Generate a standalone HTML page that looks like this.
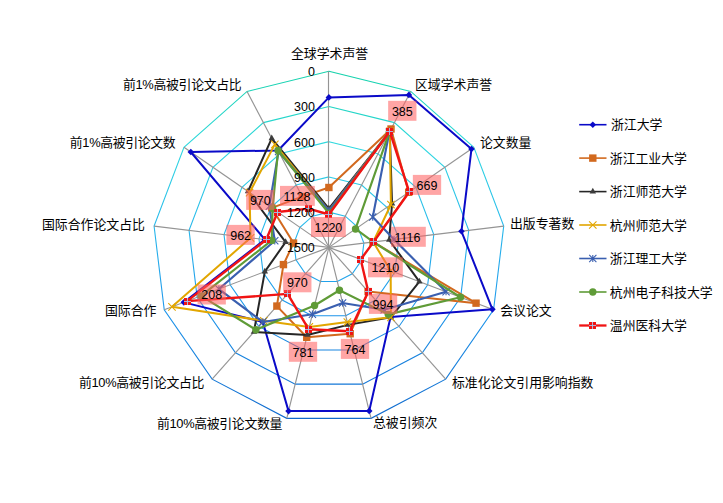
<!DOCTYPE html>
<html><head><meta charset="utf-8"><title>radar</title>
<style>html,body{margin:0;padding:0;background:#fff;font-family:"Liberation Sans",sans-serif;}svg{display:block}
.cj{font-family:"Liberation Sans","Noto Sans CJK SC",sans-serif;font-size:12.87px;fill:#000}
.nm{font-family:"Liberation Sans",sans-serif;font-size:12.5px;fill:#000}</style>
</head><body>
<svg width="723" height="503" viewBox="0 0 723 503">
<defs><linearGradient id="gg" gradientUnits="userSpaceOnUse" x1="0" y1="71.2" x2="0" y2="418.3"><stop offset="0" stop-color="#14d2aa"/><stop offset="0.22" stop-color="#30d8e0"/><stop offset="0.44" stop-color="#28b9eb"/><stop offset="0.69" stop-color="#1e96eb"/><stop offset="1" stop-color="#0f69cd"/></linearGradient></defs>
<rect width="723" height="503" fill="#fff"/>
<polygon points="328.90,71.25 410.74,91.42 473.83,147.31 503.72,226.12 493.56,309.80 445.68,379.16 371.04,418.33 286.76,418.33 212.12,379.16 164.24,309.80 154.08,226.12 183.97,147.31 247.06,91.42" fill="none" stroke="url(#gg)" stroke-width="1.1"/>
<polygon points="328.90,106.47 394.37,122.61 444.84,167.32 468.75,230.37 460.63,297.31 422.32,352.80 362.61,384.14 295.19,384.14 235.48,352.80 197.17,297.31 189.05,230.37 212.96,167.32 263.43,122.61" fill="none" stroke="url(#gg)" stroke-width="1.1"/>
<polygon points="328.90,141.69 378.00,153.79 415.86,187.33 433.79,234.61 427.69,284.82 398.97,326.44 354.19,349.94 303.61,349.94 258.83,326.44 230.11,284.82 224.01,234.61 241.94,187.33 279.80,153.79" fill="none" stroke="url(#gg)" stroke-width="1.1"/>
<polygon points="328.90,176.91 361.64,184.98 386.87,207.34 398.83,238.86 394.76,272.33 375.61,300.08 345.76,315.74 312.04,315.74 282.19,300.08 263.04,272.33 258.97,238.86 270.93,207.34 296.16,184.98" fill="none" stroke="url(#gg)" stroke-width="1.1"/>
<polygon points="328.90,212.13 345.27,216.16 357.89,227.34 363.86,243.10 361.83,259.84 352.26,273.71 337.33,281.55 320.47,281.55 305.54,273.71 295.97,259.84 293.94,243.10 299.91,227.34 312.53,216.16" fill="none" stroke="url(#gg)" stroke-width="1.1"/>
<line x1="328.5" y1="247.35" x2="328.5" y2="71.25" stroke="#949494" stroke-width="1.15"/>
<line x1="328.90" y1="247.35" x2="410.74" y2="91.42" stroke="#949494" stroke-width="1.15"/>
<line x1="328.90" y1="247.35" x2="473.83" y2="147.31" stroke="#949494" stroke-width="1.15"/>
<line x1="328.90" y1="247.35" x2="503.72" y2="226.12" stroke="#949494" stroke-width="1.15"/>
<line x1="328.90" y1="247.35" x2="493.56" y2="309.80" stroke="#949494" stroke-width="1.15"/>
<line x1="328.90" y1="247.35" x2="445.68" y2="379.16" stroke="#949494" stroke-width="1.15"/>
<line x1="328.90" y1="247.35" x2="371.04" y2="418.33" stroke="#949494" stroke-width="1.15"/>
<line x1="328.90" y1="247.35" x2="286.76" y2="418.33" stroke="#949494" stroke-width="1.15"/>
<line x1="328.90" y1="247.35" x2="212.12" y2="379.16" stroke="#949494" stroke-width="1.15"/>
<line x1="328.90" y1="247.35" x2="164.24" y2="309.80" stroke="#949494" stroke-width="1.15"/>
<line x1="328.90" y1="247.35" x2="154.08" y2="226.12" stroke="#949494" stroke-width="1.15"/>
<line x1="328.90" y1="247.35" x2="183.97" y2="147.31" stroke="#949494" stroke-width="1.15"/>
<line x1="328.90" y1="247.35" x2="247.06" y2="91.42" stroke="#949494" stroke-width="1.15"/>
<polygon points="328.90,97.40 408.90,94.92 471.49,148.93 461.45,231.26 492.41,309.36 390.57,316.96 369.21,410.91 288.54,411.10 262.82,321.94 183.86,302.36 264.95,239.59 190.79,152.02 278.06,150.48" fill="none" stroke="#0a0ac8" stroke-width="2.00" stroke-linejoin="round"/>
<path d="M328.90 94.10L332.20 97.40L328.90 100.70L325.60 97.40Z" fill="#0a0ac8"/>
<path d="M408.90 91.62L412.20 94.92L408.90 98.22L405.60 94.92Z" fill="#0a0ac8"/>
<path d="M471.49 145.63L474.79 148.93L471.49 152.23L468.19 148.93Z" fill="#0a0ac8"/>
<path d="M461.45 227.96L464.75 231.26L461.45 234.56L458.15 231.26Z" fill="#0a0ac8"/>
<path d="M492.41 306.06L495.71 309.36L492.41 312.66L489.11 309.36Z" fill="#0a0ac8"/>
<path d="M390.57 313.66L393.87 316.96L390.57 320.26L387.27 316.96Z" fill="#0a0ac8"/>
<path d="M369.21 407.61L372.51 410.91L369.21 414.21L365.91 410.91Z" fill="#0a0ac8"/>
<path d="M288.54 407.80L291.84 411.10L288.54 414.40L285.24 411.10Z" fill="#0a0ac8"/>
<path d="M262.82 318.64L266.12 321.94L262.82 325.24L259.52 321.94Z" fill="#0a0ac8"/>
<path d="M183.86 299.06L187.16 302.36L183.86 305.66L180.56 302.36Z" fill="#0a0ac8"/>
<path d="M264.95 236.29L268.25 239.59L264.95 242.89L261.65 239.59Z" fill="#0a0ac8"/>
<path d="M190.79 148.72L194.09 152.02L190.79 155.32L187.49 152.02Z" fill="#0a0ac8"/>
<path d="M278.06 147.18L281.36 150.48L278.06 153.78L274.76 150.48Z" fill="#0a0ac8"/>
<polygon points="328.90,187.50 391.01,129.01 408.69,192.27 373.10,241.98 476.05,303.16 368.11,291.60 350.19,333.72 306.73,337.31 276.88,306.07 283.44,264.59 293.54,243.06 271.77,207.92 302.26,196.60" fill="none" stroke="#d2691e" stroke-width="2.00" stroke-linejoin="round"/>
<rect x="325.20" y="183.80" width="7.40" height="7.40" fill="#d2691e"/>
<rect x="387.31" y="125.31" width="7.40" height="7.40" fill="#d2691e"/>
<rect x="404.99" y="188.57" width="7.40" height="7.40" fill="#d2691e"/>
<rect x="369.40" y="238.28" width="7.40" height="7.40" fill="#d2691e"/>
<rect x="472.35" y="299.46" width="7.40" height="7.40" fill="#d2691e"/>
<rect x="364.41" y="287.90" width="7.40" height="7.40" fill="#d2691e"/>
<rect x="346.49" y="330.02" width="7.40" height="7.40" fill="#d2691e"/>
<rect x="303.03" y="333.61" width="7.40" height="7.40" fill="#d2691e"/>
<rect x="273.18" y="302.37" width="7.40" height="7.40" fill="#d2691e"/>
<rect x="279.74" y="260.89" width="7.40" height="7.40" fill="#d2691e"/>
<rect x="289.84" y="239.36" width="7.40" height="7.40" fill="#d2691e"/>
<rect x="268.07" y="204.22" width="7.40" height="7.40" fill="#d2691e"/>
<rect x="298.56" y="192.90" width="7.40" height="7.40" fill="#d2691e"/>
<polygon points="328.90,208.70 389.75,131.40 392.07,203.75 389.18,240.03 419.38,281.67 390.90,317.34 348.01,324.89 307.30,334.98 253.87,332.05 264.83,271.65 285.60,242.09 247.99,191.50 271.73,138.42" fill="none" stroke="#262626" stroke-width="2.00" stroke-linejoin="round"/>
<path d="M328.90 204.80L332.10 210.50L325.70 210.50Z" fill="#3c3c3c"/>
<path d="M389.75 127.50L392.95 133.20L386.55 133.20Z" fill="#3c3c3c"/>
<path d="M392.07 199.85L395.27 205.55L388.87 205.55Z" fill="#3c3c3c"/>
<path d="M389.18 236.13L392.38 241.83L385.98 241.83Z" fill="#3c3c3c"/>
<path d="M419.38 277.77L422.58 283.47L416.18 283.47Z" fill="#3c3c3c"/>
<path d="M390.90 313.44L394.10 319.14L387.70 319.14Z" fill="#3c3c3c"/>
<path d="M348.01 320.99L351.21 326.69L344.81 326.69Z" fill="#3c3c3c"/>
<path d="M307.30 331.08L310.50 336.78L304.10 336.78Z" fill="#3c3c3c"/>
<path d="M253.87 328.15L257.07 333.85L250.67 333.85Z" fill="#3c3c3c"/>
<path d="M264.83 267.75L268.03 273.45L261.63 273.45Z" fill="#3c3c3c"/>
<path d="M285.60 238.19L288.80 243.89L282.40 243.89Z" fill="#3c3c3c"/>
<path d="M247.99 187.60L251.19 193.30L244.79 193.30Z" fill="#3c3c3c"/>
<path d="M271.73 134.52L274.93 140.22L268.53 140.22Z" fill="#3c3c3c"/>
<polygon points="328.90,210.70 389.75,131.40 390.92,204.54 373.20,241.97 390.68,270.78 390.90,317.34 347.32,322.07 309.29,326.92 263.81,320.82 171.98,306.86 250.56,237.84 249.55,192.58 274.84,144.35" fill="none" stroke="#e2a600" stroke-width="2.00" stroke-linejoin="round"/>
<path d="M325.20 207.00L332.60 214.40M325.20 214.40L332.60 207.00" stroke="#e2a600" stroke-width="1.1" fill="none"/>
<path d="M386.05 127.70L393.45 135.10M386.05 135.10L393.45 127.70" stroke="#e2a600" stroke-width="1.1" fill="none"/>
<path d="M387.22 200.84L394.62 208.24M387.22 208.24L394.62 200.84" stroke="#e2a600" stroke-width="1.1" fill="none"/>
<path d="M369.50 238.27L376.90 245.67M369.50 245.67L376.90 238.27" stroke="#e2a600" stroke-width="1.1" fill="none"/>
<path d="M386.98 267.08L394.38 274.48M386.98 274.48L394.38 267.08" stroke="#e2a600" stroke-width="1.1" fill="none"/>
<path d="M387.20 313.64L394.60 321.04M387.20 321.04L394.60 313.64" stroke="#e2a600" stroke-width="1.1" fill="none"/>
<path d="M343.62 318.37L351.02 325.77M343.62 325.77L351.02 318.37" stroke="#e2a600" stroke-width="1.1" fill="none"/>
<path d="M305.59 323.22L312.99 330.62M305.59 330.62L312.99 323.22" stroke="#e2a600" stroke-width="1.1" fill="none"/>
<path d="M260.11 317.12L267.51 324.52M260.11 324.52L267.51 317.12" stroke="#e2a600" stroke-width="1.1" fill="none"/>
<path d="M168.28 303.16L175.68 310.56M168.28 310.56L175.68 303.16" stroke="#e2a600" stroke-width="1.1" fill="none"/>
<path d="M246.86 234.14L254.26 241.54M246.86 241.54L254.26 234.14" stroke="#e2a600" stroke-width="1.1" fill="none"/>
<path d="M245.85 188.88L253.25 196.28M245.85 196.28L253.25 188.88" stroke="#e2a600" stroke-width="1.1" fill="none"/>
<path d="M271.14 140.65L278.54 148.05M271.14 148.05L278.54 140.65" stroke="#e2a600" stroke-width="1.1" fill="none"/>
<polygon points="328.90,210.70 389.29,132.29 372.73,217.10 394.04,239.44 446.03,291.77 384.15,309.72 342.60,302.94 312.42,314.20 262.82,321.94 218.92,289.06 274.78,240.78 269.30,206.21 278.56,151.44" fill="none" stroke="#3a5fb0" stroke-width="2.15" stroke-linejoin="round"/>
<path d="M325.30 207.10L332.50 214.30M325.30 214.30L332.50 207.10M328.90 207.10L328.90 214.30" stroke="#3a5fb0" stroke-width="1.1" fill="none"/>
<path d="M385.69 128.69L392.89 135.89M385.69 135.89L392.89 128.69M389.29 128.69L389.29 135.89" stroke="#3a5fb0" stroke-width="1.1" fill="none"/>
<path d="M369.13 213.50L376.33 220.70M369.13 220.70L376.33 213.50M372.73 213.50L372.73 220.70" stroke="#3a5fb0" stroke-width="1.1" fill="none"/>
<path d="M390.44 235.84L397.64 243.04M390.44 243.04L397.64 235.84M394.04 235.84L394.04 243.04" stroke="#3a5fb0" stroke-width="1.1" fill="none"/>
<path d="M442.43 288.17L449.63 295.37M442.43 295.37L449.63 288.17M446.03 288.17L446.03 295.37" stroke="#3a5fb0" stroke-width="1.1" fill="none"/>
<path d="M380.55 306.12L387.75 313.32M380.55 313.32L387.75 306.12M384.15 306.12L384.15 313.32" stroke="#3a5fb0" stroke-width="1.1" fill="none"/>
<path d="M339.00 299.34L346.20 306.54M339.00 306.54L346.20 299.34M342.60 299.34L342.60 306.54" stroke="#3a5fb0" stroke-width="1.1" fill="none"/>
<path d="M308.82 310.60L316.02 317.80M308.82 317.80L316.02 310.60M312.42 310.60L312.42 317.80" stroke="#3a5fb0" stroke-width="1.1" fill="none"/>
<path d="M259.22 318.34L266.42 325.54M259.22 325.54L266.42 318.34M262.82 318.34L262.82 325.54" stroke="#3a5fb0" stroke-width="1.1" fill="none"/>
<path d="M215.32 285.46L222.52 292.66M215.32 292.66L222.52 285.46M218.92 285.46L218.92 292.66" stroke="#3a5fb0" stroke-width="1.1" fill="none"/>
<path d="M271.18 237.18L278.38 244.38M271.18 244.38L278.38 237.18M274.78 237.18L274.78 244.38" stroke="#3a5fb0" stroke-width="1.1" fill="none"/>
<path d="M265.70 202.61L272.90 209.81M265.70 209.81L272.90 202.61M269.30 202.61L269.30 209.81" stroke="#3a5fb0" stroke-width="1.1" fill="none"/>
<path d="M274.96 147.84L282.16 155.04M274.96 155.04L282.16 147.84M278.56 147.84L278.56 155.04" stroke="#3a5fb0" stroke-width="1.1" fill="none"/>
<polygon points="328.90,213.20 389.29,132.29 355.53,228.97 373.20,241.97 460.52,297.27 388.25,314.34 339.47,290.23 314.58,305.46 255.89,329.76 201.06,295.83 271.70,240.41 272.60,208.49 278.06,150.48" fill="none" stroke="#5f9b37" stroke-width="2.15" stroke-linejoin="round"/>
<circle cx="328.90" cy="213.20" r="3.7" fill="#5f9b37"/>
<circle cx="389.29" cy="132.29" r="3.7" fill="#5f9b37"/>
<circle cx="355.53" cy="228.97" r="3.7" fill="#5f9b37"/>
<circle cx="373.20" cy="241.97" r="3.7" fill="#5f9b37"/>
<circle cx="460.52" cy="297.27" r="3.7" fill="#5f9b37"/>
<circle cx="388.25" cy="314.34" r="3.7" fill="#5f9b37"/>
<circle cx="339.47" cy="290.23" r="3.7" fill="#5f9b37"/>
<circle cx="314.58" cy="305.46" r="3.7" fill="#5f9b37"/>
<circle cx="255.89" cy="329.76" r="3.7" fill="#5f9b37"/>
<circle cx="201.06" cy="295.83" r="3.7" fill="#5f9b37"/>
<circle cx="271.70" cy="240.41" r="3.7" fill="#5f9b37"/>
<circle cx="272.60" cy="208.49" r="3.7" fill="#5f9b37"/>
<circle cx="278.06" cy="150.48" r="3.7" fill="#5f9b37"/>
<polygon points="328.90,214.48 389.73,131.44 409.19,191.93 373.65,241.92 360.73,259.42 368.29,291.81 349.58,331.25 308.70,329.31 287.64,293.92 187.08,301.14 266.20,239.74 277.69,212.00 308.60,208.68" fill="none" stroke="#f01414" stroke-width="2.40" stroke-linejoin="round"/>
<rect x="325.00" y="211.00" width="7.00" height="7.00" fill="#f01414"/><path d="M325.00 214.50L332.00 214.50M328.50 211.00L328.50 218.00" stroke="#a4c6ee" stroke-width="0.9" fill="none"/>
<rect x="386.00" y="128.00" width="7.00" height="7.00" fill="#f01414"/><path d="M386.00 131.50L393.00 131.50M389.50 128.00L389.50 135.00" stroke="#a4c6ee" stroke-width="0.9" fill="none"/>
<rect x="406.00" y="188.00" width="7.00" height="7.00" fill="#f01414"/><path d="M406.00 191.50L413.00 191.50M409.50 188.00L409.50 195.00" stroke="#a4c6ee" stroke-width="0.9" fill="none"/>
<rect x="370.00" y="238.00" width="7.00" height="7.00" fill="#f01414"/><path d="M370.00 241.50L377.00 241.50M373.50 238.00L373.50 245.00" stroke="#a4c6ee" stroke-width="0.9" fill="none"/>
<rect x="357.00" y="256.00" width="7.00" height="7.00" fill="#f01414"/><path d="M357.00 259.50L364.00 259.50M360.50 256.00L360.50 263.00" stroke="#a4c6ee" stroke-width="0.9" fill="none"/>
<rect x="365.00" y="288.00" width="7.00" height="7.00" fill="#f01414"/><path d="M365.00 291.50L372.00 291.50M368.50 288.00L368.50 295.00" stroke="#a4c6ee" stroke-width="0.9" fill="none"/>
<rect x="346.00" y="328.00" width="7.00" height="7.00" fill="#f01414"/><path d="M346.00 331.50L353.00 331.50M349.50 328.00L349.50 335.00" stroke="#a4c6ee" stroke-width="0.9" fill="none"/>
<rect x="305.00" y="326.00" width="7.00" height="7.00" fill="#f01414"/><path d="M305.00 329.50L312.00 329.50M308.50 326.00L308.50 333.00" stroke="#a4c6ee" stroke-width="0.9" fill="none"/>
<rect x="284.00" y="290.00" width="7.00" height="7.00" fill="#f01414"/><path d="M284.00 293.50L291.00 293.50M287.50 290.00L287.50 297.00" stroke="#a4c6ee" stroke-width="0.9" fill="none"/>
<rect x="184.00" y="298.00" width="7.00" height="7.00" fill="#f01414"/><path d="M184.00 301.50L191.00 301.50M187.50 298.00L187.50 305.00" stroke="#a4c6ee" stroke-width="0.9" fill="none"/>
<rect x="263.00" y="236.00" width="7.00" height="7.00" fill="#f01414"/><path d="M263.00 239.50L270.00 239.50M266.50 236.00L266.50 243.00" stroke="#a4c6ee" stroke-width="0.9" fill="none"/>
<rect x="274.00" y="209.00" width="7.00" height="7.00" fill="#f01414"/><path d="M274.00 212.50L281.00 212.50M277.50 209.00L277.50 216.00" stroke="#a4c6ee" stroke-width="0.9" fill="none"/>
<rect x="305.00" y="205.00" width="7.00" height="7.00" fill="#f01414"/><path d="M305.00 208.50L312.00 208.50M308.50 205.00L308.50 212.00" stroke="#a4c6ee" stroke-width="0.9" fill="none"/>
<text class="nm" x="308" y="76.15">0</text>
<text class="nm" x="294" y="111.37">300</text>
<text class="nm" x="294" y="146.59">600</text>
<text class="nm" x="294" y="181.81">900</text>
<text class="nm" x="287" y="217.03">1200</text>
<text class="nm" x="287" y="252.25">1500</text>
<rect x="311.00" y="217.00" width="34.80" height="20.00" fill="#ff6060" fill-opacity="0.57"/>
<text class="nm" x="314.5" y="231.70">1220</text>
<rect x="388.15" y="100.80" width="28.30" height="20.00" fill="#ff6060" fill-opacity="0.57"/>
<text class="nm" x="391.9" y="115.50">385</text>
<rect x="412.85" y="174.90" width="28.30" height="20.00" fill="#ff6060" fill-opacity="0.57"/>
<text class="nm" x="416.6" y="189.60">669</text>
<rect x="391.00" y="226.80" width="34.80" height="20.00" fill="#ff6060" fill-opacity="0.57"/>
<text class="nm" x="394.5" y="241.50">1116</text>
<rect x="368.00" y="257.30" width="34.80" height="20.00" fill="#ff6060" fill-opacity="0.57"/>
<text class="nm" x="371.5" y="272.00">1210</text>
<rect x="368.90" y="293.90" width="28.30" height="20.00" fill="#ff6060" fill-opacity="0.57"/>
<text class="nm" x="372.6" y="308.60">994</text>
<rect x="340.85" y="338.90" width="28.30" height="20.00" fill="#ff6060" fill-opacity="0.57"/>
<text class="nm" x="344.6" y="353.60">764</text>
<rect x="288.85" y="341.80" width="28.30" height="20.00" fill="#ff6060" fill-opacity="0.57"/>
<text class="nm" x="292.6" y="356.50">781</text>
<rect x="283.15" y="272.30" width="28.30" height="20.00" fill="#ff6060" fill-opacity="0.57"/>
<text class="nm" x="286.9" y="287.00">970</text>
<rect x="197.55" y="284.50" width="28.30" height="20.00" fill="#ff6060" fill-opacity="0.57"/>
<text class="nm" x="201.3" y="299.20">208</text>
<rect x="226.45" y="224.90" width="28.30" height="20.00" fill="#ff6060" fill-opacity="0.57"/>
<text class="nm" x="230.2" y="239.60">962</text>
<rect x="246.15" y="189.90" width="28.30" height="20.00" fill="#ff6060" fill-opacity="0.57"/>
<text class="nm" x="249.9" y="204.60">970</text>
<rect x="280.00" y="185.90" width="34.80" height="20.00" fill="#ff6060" fill-opacity="0.57"/>
<text class="nm" x="283.5" y="200.60">1128</text>
<text class="cj" x="291.00" y="58.10">全球学术声誉</text>
<text class="cj" x="415.00" y="89.40">区域学术声誉</text>
<text class="cj" x="480.00" y="146.90">论文数量</text>
<text class="cj" x="510.00" y="228.40">出版专著数</text>
<text class="cj" x="500.20" y="314.90">会议论文</text>
<text class="cj" x="452.00" y="386.90">标准化论文引用影响指数</text>
<text class="cj" x="373.00" y="427.40">总被引频次</text>
<text class="cj" x="157.00" y="427.90" textLength="125.3" lengthAdjust="spacing">前10%高被引论文数量</text>
<text class="cj" x="79.00" y="386.90" textLength="125.3" lengthAdjust="spacing">前10%高被引论文占比</text>
<text class="cj" x="105.00" y="314.90">国际合作</text>
<text class="cj" x="42.00" y="228.90">国际合作论文占比</text>
<text class="cj" x="69.80" y="146.90" textLength="105.9" lengthAdjust="spacing">前1%高被引论文数</text>
<text class="cj" x="122.90" y="89.40" textLength="118.8" lengthAdjust="spacing">前1%高被引论文占比</text>
<line x1="579.2" y1="124.70" x2="606.5" y2="124.70" stroke="#0a0ac8" stroke-width="1.60"/>
<path d="M592.80 121.40L596.10 124.70L592.80 128.00L589.50 124.70Z" fill="#0a0ac8"/>
<text class="cj" x="611.00" y="129.30">浙江大学</text>
<line x1="579.2" y1="158.10" x2="606.5" y2="158.10" stroke="#d2691e" stroke-width="1.60"/>
<rect x="589.10" y="154.40" width="7.40" height="7.40" fill="#d2691e"/>
<text class="cj" x="609.80" y="162.70">浙江工业大学</text>
<line x1="579.2" y1="191.60" x2="606.5" y2="191.60" stroke="#262626" stroke-width="1.60"/>
<path d="M592.80 187.70L596.00 193.40L589.60 193.40Z" fill="#3c3c3c"/>
<text class="cj" x="609.80" y="196.20">浙江师范大学</text>
<line x1="579.2" y1="225.00" x2="606.5" y2="225.00" stroke="#e2a600" stroke-width="1.60"/>
<path d="M589.10 221.30L596.50 228.70M589.10 228.70L596.50 221.30" stroke="#e2a600" stroke-width="1.1" fill="none"/>
<text class="cj" x="609.80" y="229.60">杭州师范大学</text>
<line x1="579.2" y1="258.50" x2="606.5" y2="258.50" stroke="#3a5fb0" stroke-width="1.60"/>
<path d="M589.20 254.90L596.40 262.10M589.20 262.10L596.40 254.90M592.80 254.90L592.80 262.10" stroke="#3a5fb0" stroke-width="1.1" fill="none"/>
<text class="cj" x="609.80" y="263.10">浙江理工大学</text>
<line x1="579.2" y1="292.00" x2="606.5" y2="292.00" stroke="#5f9b37" stroke-width="1.60"/>
<circle cx="592.80" cy="292.00" r="3.7" fill="#5f9b37"/>
<text class="cj" x="609.80" y="296.60">杭州电子科技大学</text>
<line x1="579.2" y1="325.50" x2="606.5" y2="325.50" stroke="#f01414" stroke-width="2.30"/>
<rect x="589.00" y="322.00" width="7.00" height="7.00" fill="#f01414"/><path d="M589.00 325.50L596.00 325.50M592.50 322.00L592.50 329.00" stroke="#a4c6ee" stroke-width="0.9" fill="none"/>
<text class="cj" x="609.80" y="330.10">温州医科大学</text>
</svg>
</body></html>
